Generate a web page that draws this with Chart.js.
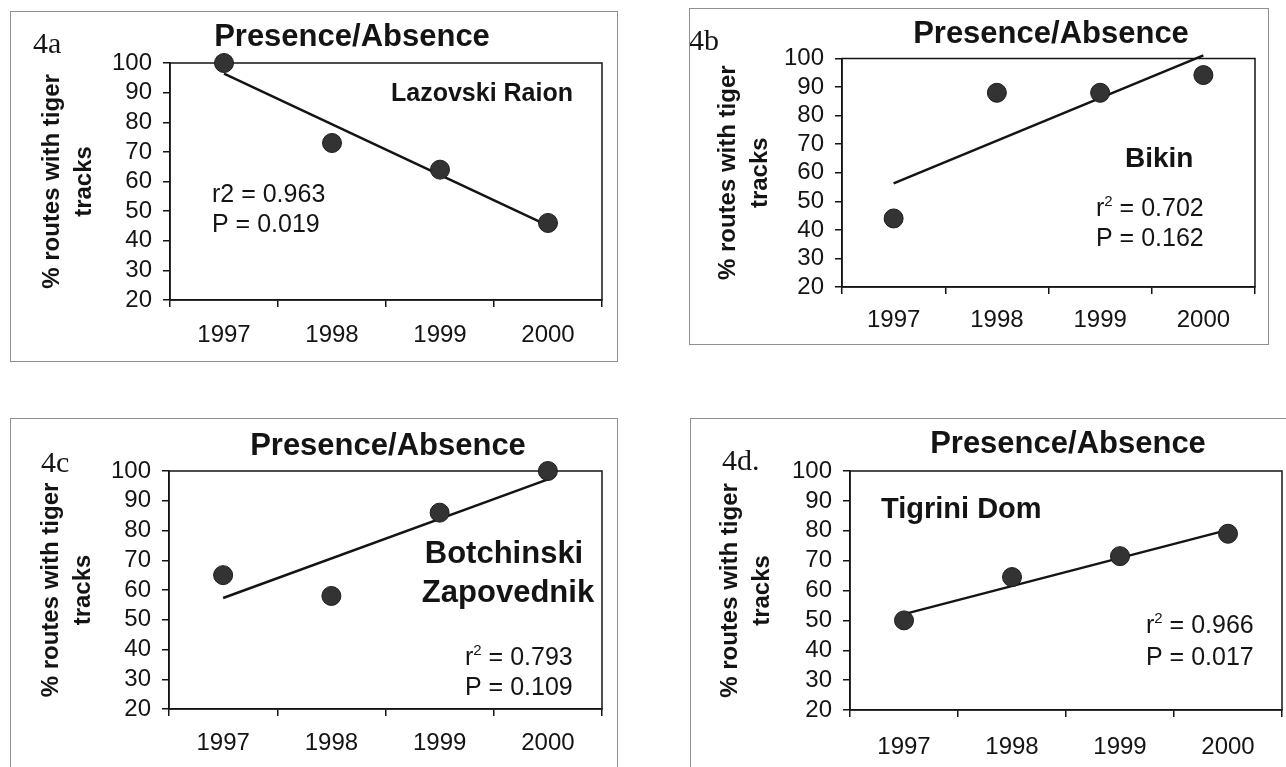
<!DOCTYPE html>
<html>
<head>
<meta charset="utf-8">
<script src="https://cdn.jsdelivr.net/npm/chart.js@4.4.1/dist/chart.umd.min.js"></script>
<style>
  html, body { margin: 0; padding: 0; background: #fff; width: 1286px; height: 767px; overflow: hidden; position: relative; }
  canvas { position: absolute; }
  .frame { position: absolute; border: 1.5px solid #8f8f8f; box-sizing: border-box; pointer-events: none; }
</style>
</head>
<body>
<canvas id="c4a"></canvas>
<canvas id="c4b"></canvas>
<canvas id="c4c"></canvas>
<canvas id="c4d"></canvas>
<script>
// survey years and y range
const years = ['1997', '1998', '1999', '2000'];
const yMin = 20, yMax = 100, yStep = 10;
const yTitle = ['% routes with tiger', 'tracks'];

// % of routes with tiger tracks per site
const lazovski = [100, 73, 64, 46];
const bikin = [44, 88, 88, 94.2];
const botchinski = [65, 58, 86, 100];
const tigrini = [50, 64.5, 71.5, 79];

// regression line values at 1997 and 2000
const lazovskiTrend = [96.4, 45.1];
const bikinTrend = [56.3, 101.1];
const botchinskiTrend = [57.3, 97.2];
const tigriniTrend = [52.1, 80.3];

const SANS = '"Liberation Sans", Arial, Helvetica, sans-serif';
const SERIF = '"Liberation Serif", "Times New Roman", serif';
const INK = '#141414';

Chart.defaults.font.family = SANS;
Chart.defaults.color = INK;

const big = '25px ' + SANS;
const sup = '15px ' + SANS;
const bold = s => 'bold ' + s + 'px ' + SANS;
const letter = '30px ' + SERIF;

// r² written as r + raised 2
const rSquared = (v, x, y) => ({ x, y, parts: [['r', big, 0], ['2', sup, -10], [' = ' + v, big, 0]] });

const panels = [
  {
    id: 'c4a', box: [10, 11, 608, 351], plot: [170, 63, 602, 300],
    values: lazovski, trend: lazovskiTrend, titlePad: 26, xPad: 14,
    texts: [
      { t: '4a', x: 33, y: 53, font: letter },
      { t: 'Presence/Absence', x: 352, y: 46, font: bold(31), align: 'center' },
      { t: 'Lazovski Raion', x: 573, y: 101, font: bold(25), align: 'right' },
      { t: 'r2 = 0.963', x: 212, y: 202, font: big },
      { t: 'P = 0.019', x: 212, y: 232, font: big }
    ]
  },
  {
    id: 'c4b', box: [689, 8, 580, 337], plot: [842, 58.5, 1255, 287],
    values: bikin, trend: bikinTrend, titlePad: 23, xPad: 12,
    texts: [
      { t: '4b', x: 689, y: 50, font: letter },
      { t: 'Presence/Absence', x: 1051, y: 43, font: bold(31), align: 'center' },
      { t: 'Bikin', x: 1125, y: 167, font: bold(28) },
      rSquared('0.702', 1096, 216),
      { t: 'P = 0.162', x: 1096, y: 246, font: big }
    ]
  },
  {
    id: 'c4c', box: [10, 418, 608, 382], plot: [169, 471, 602, 709],
    values: botchinski, trend: botchinskiTrend, titlePad: 25, xPad: 13,
    texts: [
      { t: '4c', x: 41, y: 472, font: letter },
      { t: 'Presence/Absence', x: 388, y: 455, font: bold(31), align: 'center' },
      { t: 'Botchinski', x: 504, y: 563, font: bold(31), align: 'center' },
      { t: 'Zapovednik', x: 508, y: 602, font: bold(31), align: 'center' },
      rSquared('0.793', 465, 665),
      { t: 'P = 0.109', x: 465, y: 695, font: big }
    ]
  },
  {
    id: 'c4d', box: [690, 418, 620, 382], plot: [850, 471, 1282, 710],
    values: tigrini, trend: tigriniTrend, titlePad: 24, xPad: 16,
    texts: [
      { t: '4d.', x: 722, y: 470, font: letter },
      { t: 'Presence/Absence', x: 1068, y: 453, font: bold(31), align: 'center' },
      { t: 'Tigrini Dom', x: 881, y: 518, font: bold(29) },
      rSquared('0.966', 1146, 633),
      { t: 'P = 0.017', x: 1146, y: 665, font: big }
    ]
  }
];

// closed rectangle round the plot area
const plotFrame = {
  id: 'plotFrame',
  beforeDatasetsDraw(chart) {
    const { ctx, chartArea: a } = chart;
    ctx.save();
    ctx.strokeStyle = INK;
    ctx.lineWidth = 1.5;
    ctx.strokeRect(a.left, a.top, a.right - a.left, a.bottom - a.top);
    ctx.restore();
  }
};

// free text (panel letter, title, site name, stats)
function panelText(items, ox, oy) {
  return {
    id: 'panelText',
    afterDraw(chart) {
      const ctx = chart.ctx;
      ctx.save();
      ctx.fillStyle = INK;
      ctx.textBaseline = 'alphabetic';
      ctx.textAlign = 'left';
      items.forEach(it => {
        const parts = it.parts || [[it.t, it.font, 0]];
        let w = 0;
        parts.forEach(p => { ctx.font = p[1]; w += ctx.measureText(p[0]).width; });
        let x = it.x - ox;
        if (it.align === 'center') x -= w / 2;
        else if (it.align === 'right') x -= w;
        parts.forEach(p => {
          ctx.font = p[1];
          ctx.fillText(p[0], x, it.y - oy + p[2]);
          x += ctx.measureText(p[0]).width;
        });
      });
      ctx.restore();
    }
  };
}

panels.forEach(p => {
  const [bx, by, bw, bh] = p.box;
  const [pl, pt, pr, pb] = p.plot;
  const canvas = document.getElementById(p.id);
  canvas.width = bw; canvas.height = bh;
  canvas.style.left = bx + 'px'; canvas.style.top = by + 'px';

  const frame = document.createElement('div');
  frame.className = 'frame';
  Object.assign(frame.style, { left: bx + 'px', top: by + 'px', width: bw + 'px', height: bh + 'px' });
  document.body.appendChild(frame);

  new Chart(canvas, {
    type: 'line',
    data: {
      labels: years,
      datasets: [
        {
          data: p.values, showLine: false, clip: false,
          pointRadius: 9.5, pointHoverRadius: 9.5,
          pointBackgroundColor: '#333', pointBorderColor: '#1c1c1c', pointBorderWidth: 1
        },
        {
          data: [{ x: years[0], y: p.trend[0] }, { x: years[years.length - 1], y: p.trend[1] }],
          borderColor: INK, borderWidth: 2.5, pointRadius: 0, tension: 0, clip: false
        }
      ]
    },
    options: {
      responsive: false, animation: false, events: [],
      layout: { padding: { top: pt - by, right: bx + bw - pr, left: 0, bottom: 0 } },
      plugins: { legend: { display: false }, tooltip: { enabled: false } },
      scales: {
        x: {
          offset: true,
          grid: { offset: true, drawOnChartArea: false, tickLength: 7, color: INK, lineWidth: 1.5 },
          border: { color: INK, width: 1.5 },
          ticks: { font: { size: 24 }, color: INK, padding: p.xPad, maxRotation: 0 },
          afterFit(s) { s.height = by + bh - pb; }
        },
        y: {
          min: yMin, max: yMax,
          grid: { drawOnChartArea: false, tickLength: 7, color: INK, lineWidth: 1.5 },
          border: { color: INK, width: 1.5 },
          ticks: { stepSize: yStep, autoSkip: false, font: { size: 24 }, color: INK, padding: 11 },
          title: {
            display: true, text: yTitle, color: INK,
            font: { size: 24, weight: 'bold', lineHeight: 1.33 },
            padding: { top: p.titlePad, bottom: 0 }
          },
          afterFit(s) { s.width = pl - bx; }
        }
      }
    },
    plugins: [plotFrame, panelText(p.texts, bx, by)]
  });
});
</script>
</body>
</html>
